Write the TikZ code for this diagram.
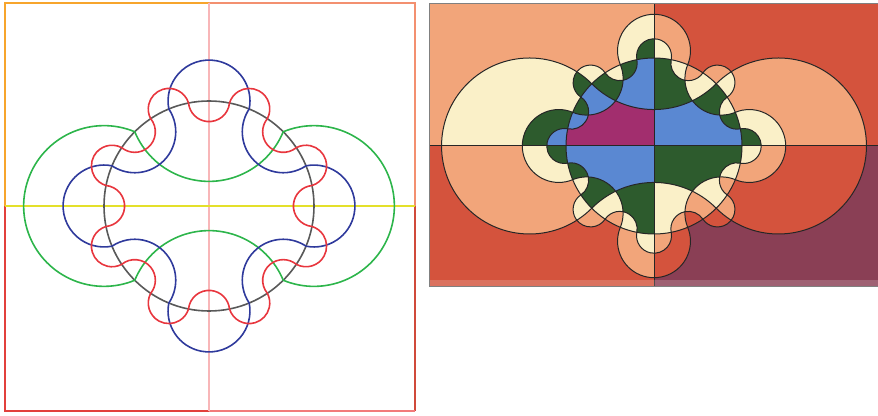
\documentclass[tikz,border=0pt]{standalone}
\usepackage{xcolor}
\usetikzlibrary{calc}
\definecolor{EdgeOrange}{HTML}{F7A52C}
\definecolor{EdgeSalmon}{HTML}{F39070}
\definecolor{EdgeRed}{HTML}{E2403C}
\definecolor{EdgePink}{HTML}{F27A7A}
\definecolor{EdgeBrown}{HTML}{D04A3A}
\definecolor{LineYellow}{HTML}{E4E02A}
\definecolor{LinePink}{HTML}{F8B6B8}
\definecolor{SetGreen}{HTML}{2DB54B}
\definecolor{SetBlue}{HTML}{2F3A9C}
\definecolor{SetRed}{HTML}{E8363E}
% colours of the right panel, by number of sets
\definecolor{level0}{HTML}{8A3F55}
\definecolor{level1}{HTML}{D4533D}
\definecolor{level2}{HTML}{F2A57A}
\definecolor{level3}{HTML}{FAF0C8}
\definecolor{level4}{HTML}{2D5B2D}
\definecolor{level5}{HTML}{5A88D2}
\definecolor{level6}{HTML}{A22E6E}
% ring of chord discs: centre, radius, half step, last index, parity
\newcommand{\chordring}[5]{([shift={(-#3:#2)}]#1) \foreach \k in {0,...,#4}{arc[start angle={\k*2*#3-90-#3/2}, delta angle={180+#3-360*mod(\k+#5,2)}, radius={2*#2*sin(#3/2)}]} -- cycle}
% ring of orthogonal discs
\newcommand{\orthoring}[5]{([shift={(-#3:#2)}]#1) \foreach \k in {0,...,#4}{arc[start angle={\k*2*#3-90-#3}, delta angle={180+2*#3-360*mod(\k+#5,2)}, radius={#2*tan(#3)}]} -- cycle}
\newcommand{\clipset}[2]{\ifnum#1=1 \clip #2;\else \clip (420,120) rectangle (880,415) #2;\fi}

\begin{document}
\begin{tikzpicture}[
    x=1pt, y=1pt,
    edge/.style={line width=1.8pt},
    curve/.style={line width=1.6pt},
    outline/.style={line width=1pt, draw=black!85}
]
\useasboundingbox (0,0) rectangle (878,415);
\coordinate (cL) at (209,209);
\coordinate (cR) at (654,269);

% left panel
\draw[edge, EdgeOrange] (5,209) -- (5,412) -- (209,412);
\draw[edge, EdgeSalmon] (209,412) -- (415,412) -- (415,209);
\draw[edge, EdgeBrown] (415,209) -- (415,4);
\draw[edge, EdgePink] (415,4) -- (209,4);
\draw[edge, EdgeRed] (209,4) -- (5,4) -- (5,209);
\draw[curve, LinePink] (209,4) -- (209,412);
\draw[curve, LineYellow] (5,209) -- (415,209);
\draw[curve, black!65] (cL) circle (105);
\draw[curve, SetGreen] \chordring{cL}{105}{45}{3}{0};
\draw[curve, SetBlue] \chordring{cL}{105}{22.5}{7}{0};
\draw[curve, SetRed] \chordring{cL}{105}{11.25}{15}{1};

% right panel
\def\setC{(cR) circle (88)}
\def\setG{\orthoring{cR}{88}{45}{3}{0}}
\def\setB{\orthoring{cR}{88}{22.5}{7}{0}}
\def\setR{\orthoring{cR}{88}{11.25}{15}{0}}
\foreach \s in {0,...,15}{
  \pgfmathtruncatemacro\inC{mod(\s,2)}
  \pgfmathtruncatemacro\inG{mod(floor(\s/2),2)}
  \pgfmathtruncatemacro\inB{mod(floor(\s/4),2)}
  \pgfmathtruncatemacro\inR{mod(floor(\s/8),2)}
  \pgfmathtruncatemacro\nBR{\inC+\inG+\inB+\inR}
  \pgfmathtruncatemacro\nTR{\nBR+1}
  \pgfmathtruncatemacro\nTL{\nBR+2}
  \begin{scope}[even odd rule]
    \clipset{\inC}{\setC}
    \clipset{\inG}{\setG}
    \clipset{\inB}{\setB}
    \clipset{\inR}{\setR}
    \fill[level\nTL] (429,269) rectangle (654,411);
    \fill[level\nTR] (654,269) rectangle (878,411);
    \fill[level\nTR] (429,128) rectangle (654,269);
    \fill[level\nBR] (654,128) rectangle (878,269);
  \end{scope}
}
\draw[outline] \setC;
\draw[outline] \setG;
\draw[outline] \setB;
\draw[outline] \setR;
\draw[outline] (429,269) -- (878,269);
\draw[outline] (654,128) -- (654,411);
\fill[white, opacity=0.18] (429,128) rectangle (878,135);
\draw[outline, draw=black!50] (429,128) rectangle (878,411);
\end{tikzpicture}
\end{document}
